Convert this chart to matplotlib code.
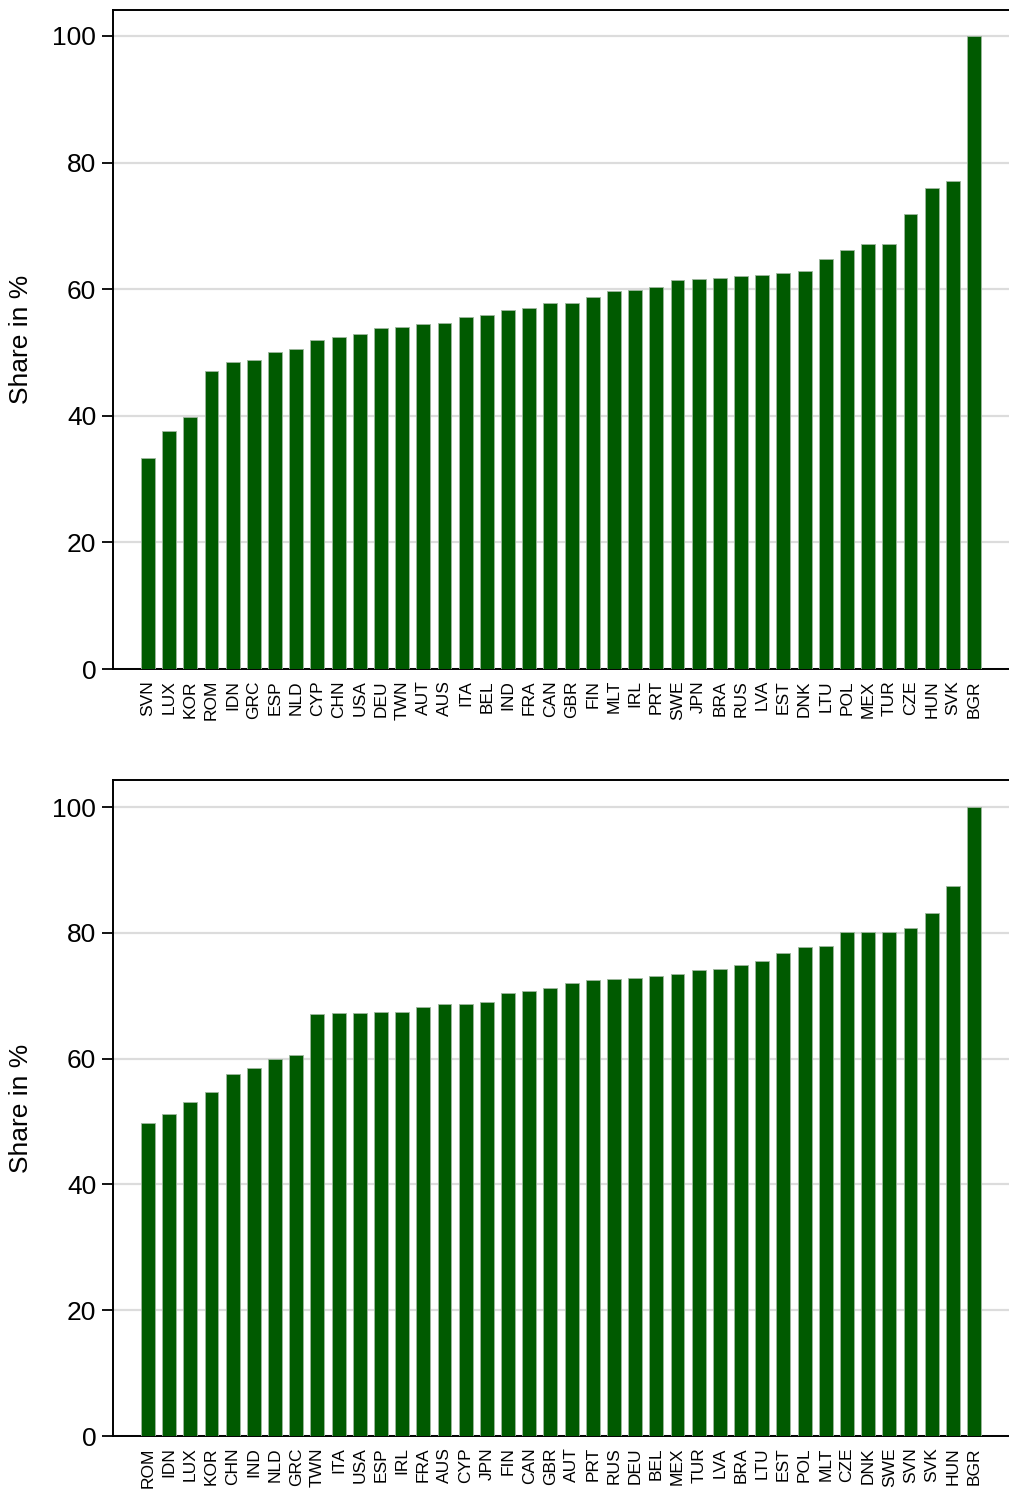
import numpy as np
import matplotlib.pyplot as plt

plt.rcParams['font.family'] = ['Liberation Sans', 'DejaVu Sans']

# upper panel
top_countries = ["SVN", "LUX", "KOR", "ROM", "IDN", "GRC", "ESP", "NLD", "CYP", "CHN",
                 "USA", "DEU", "TWN", "AUT", "AUS", "ITA", "BEL", "IND", "FRA", "CAN",
                 "GBR", "FIN", "MLT", "IRL", "PRT", "SWE", "JPN", "BRA", "RUS", "LVA",
                 "EST", "DNK", "LTU", "POL", "MEX", "TUR", "CZE", "HUN", "SVK", "BGR"]
top_share = [33.3, 37.6, 39.8, 47.1, 48.5, 48.8, 50.1, 50.6, 52.0, 52.4,
             52.9, 53.9, 54.0, 54.5, 54.7, 55.6, 55.9, 56.7, 57.0, 57.8,
             57.8, 58.8, 59.7, 59.9, 60.3, 61.5, 61.6, 61.8, 62.1, 62.2,
             62.6, 62.9, 64.8, 66.2, 67.1, 67.1, 71.9, 76.0, 77.1, 100.0]

# lower panel
bottom_countries = ["ROM", "IDN", "LUX", "KOR", "CHN", "IND", "NLD", "GRC", "TWN", "ITA",
                    "USA", "ESP", "IRL", "FRA", "AUS", "CYP", "JPN", "FIN", "CAN", "GBR",
                    "AUT", "PRT", "RUS", "DEU", "BEL", "MEX", "TUR", "LVA", "BRA", "LTU",
                    "EST", "POL", "MLT", "CZE", "DNK", "SWE", "SVN", "SVK", "HUN", "BGR"]
bottom_share = [49.8, 51.2, 53.1, 54.7, 57.6, 58.5, 59.9, 60.6, 67.1, 67.2,
                67.3, 67.4, 67.4, 68.2, 68.7, 68.7, 69.0, 70.4, 70.7, 71.2,
                72.0, 72.5, 72.7, 72.8, 73.1, 73.4, 74.1, 74.2, 74.9, 75.5,
                76.8, 77.7, 77.9, 80.1, 80.1, 80.1, 80.8, 83.1, 87.4, 100.0]

bar_color = "#005a00"

fig = plt.figure(figsize=(10.09, 14.94), dpi=100)
ax_top = fig.add_axes([0.112, 0.5522, 0.888, 0.4411])
ax_bot = fig.add_axes([0.112, 0.0388, 0.888, 0.4391])


def draw_panel(ax, countries, share, ytop):
    x = np.arange(len(countries))
    ax.bar(x, share, width=0.66, color=bar_color, edgecolor="#9fb79f",
           linewidth=0.6, zorder=3)
    ax.set_xlim(-1.65, len(countries) - 1 + 1.65)
    ax.set_ylim(0, ytop)
    ax.set_yticks([0, 20, 40, 60, 80, 100])
    ax.yaxis.grid(True, color="#dcdcdc", linewidth=1.6, zorder=0)
    ax.set_axisbelow(True)
    ax.set_xticks(x)
    ax.set_xticklabels(countries, rotation=90, fontsize=12.5)
    ax.tick_params(axis="x", length=0, pad=8)
    ax.tick_params(axis="y", labelsize=19, length=8, width=1.3, pad=4)
    ax.set_ylabel("Share in %", fontsize=19, labelpad=14)
    ax.spines["right"].set_visible(False)
    for side in ["left", "top", "bottom"]:
        ax.spines[side].set_linewidth(1.4)
        ax.spines[side].set_color("black")


draw_panel(ax_top, top_countries, top_share, 104.1)
draw_panel(ax_bot, bottom_countries, bottom_share, 104.3)

fig.savefig("out.png", dpi=100)
